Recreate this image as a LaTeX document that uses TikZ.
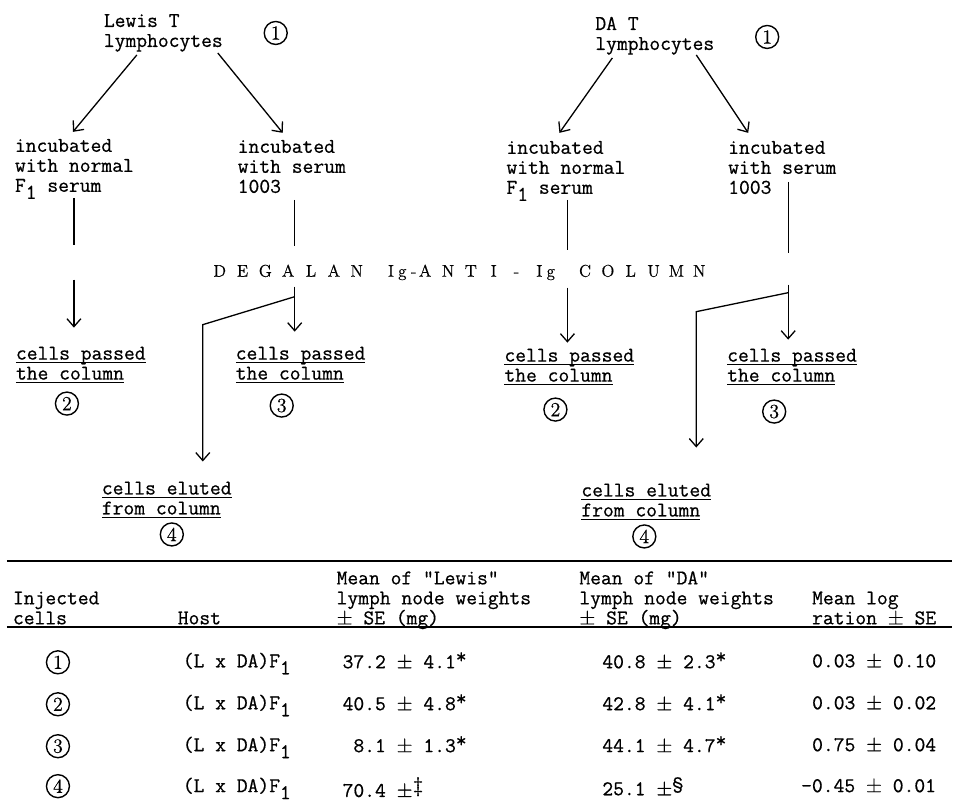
\documentclass[tikz,border=0pt]{standalone}
\usepackage{fontspec}
\usetikzlibrary{arrows.meta}
\newfontfamily\tw{lmmono12-regular.otf}[FakeBold=0.6]
\newfontfamily\twr{lmroman12-regular.otf}[FakeBold=0.5]
\newcommand\ustrut{\rule{0pt}{15pt}}
\newcommand\ul[1]{\setbox0\hbox{#1}\rlap{\rule[-3.5pt]{\wd0}{1.4pt}}\box0}
\newcommand\lowsub[1]{\raisebox{-7pt}{#1}}
\newcommand\spch[1]{\makebox[11.43pt][c]{#1}}
\newcommand\upmark[1]{\raisebox{5pt}{#1}}
\newcommand\pmx{{\twr ±}}
\begin{document}
\begin{tikzpicture}[x=1pt,y=-1pt,
  txt/.style={anchor=north west, inner sep=0pt, outer sep=0pt, align=left,
    font=\tw\fontsize{21}{20}\selectfont},
  circ/.style={circle, draw, line width=1.4pt, inner sep=0pt, minimum size=23pt,
    font=\twr\fontsize{20}{20}\selectfont},
  conn/.style={line width=1.3pt},
  arr/.style={line width=1.3pt, -{Straight Barb[length=8pt,width=14pt]}},
  rulel/.style={line width=2pt}]
\fill[white] (0,0) rectangle (953,805);

% ---------------- Lewis branch ----------------
\node[txt] (lewis) at (104,12) {\ustrut Lewis T\\lymphocytes};
\node[circ] (c1L) at (276,33) {1};
\node[txt] (incL) at (15,137) {\ustrut incubated\\with normal\\F\lowsub{1} serum};
\node[txt] (incR) at (238,138) {\ustrut incubated\\with serum\\1003};
\node[txt] (passL1) at (16,345) {\ustrut\ul{cells passed}\\\ul{the column}};
\node[circ] (c2L) at (67,404) {2};
\node[txt] (passL2) at (236,345) {\ustrut\ul{cells passed}\\\ul{the column}};
\node[circ] (c3L) at (282,406) {3};
\node[txt] (eluL) at (102,480) {\ustrut\ul{cells eluted}\\\ul{from column}};
\node[circ] (c4L) at (172,535) {4};

% ---------------- DA branch ----------------
\node[txt] (da) at (596,15) {\ustrut DA T\\lymphocytes};
\node[circ] (c1R) at (768,37) {1};
\node[txt] (incDL) at (507,139) {\ustrut incubated\\with normal\\F\lowsub{1} serum};
\node[txt] (incDR) at (729,139) {\ustrut incubated\\with serum\\1003};
\node[txt] (passR1) at (505,347) {\ustrut\ul{cells passed}\\\ul{the column}};
\node[circ] (c2R) at (556,410) {2};
\node[txt] (passR2) at (728,347) {\ustrut\ul{cells passed}\\\ul{the column}};
\node[circ] (c3R) at (775,412) {3};
\node[txt] (eluR) at (582,482) {\ustrut\ul{cells eluted}\\\ul{from column}};
\node[circ] (c4R) at (645,537) {4};

% ---------------- column label ----------------
\node[anchor=base west, inner sep=0pt, font=\twr\fontsize{17}{17}\selectfont] (col) at (214,277)
  {\spch{D}\spch{}\spch{E}\spch{}\spch{G}\spch{}\spch{A}\spch{}\spch{L}\spch{}\spch{A}\spch{}\spch{N}\spch{}\spch{}%
   \spch{I}\spch{g}\spch{-}\spch{A}\spch{}\spch{N}\spch{}\spch{T}\spch{}\spch{I}\spch{}\spch{-}\spch{}\spch{I}\spch{g}\spch{}\spch{}%
   \spch{C}\spch{}\spch{O}\spch{}\spch{L}\spch{}\spch{U}\spch{}\spch{M}\spch{}\spch{N}};

% ---------------- connector points ----------------
\coordinate (lA1) at (137,55);  \coordinate (lA1e) at (73,132);
\coordinate (lA2) at (218,53);  \coordinate (lA2e) at (283,133);
\coordinate (lC1a) at (74,198); \coordinate (lC1b) at (74,245);
\coordinate (lC1c) at (74,280); \coordinate (lC1d) at (74,328);
\coordinate (lC2a) at (295,200); \coordinate (lC2b) at (295,246);
\coordinate (lC2c) at (295,287); \coordinate (lC2d) at (295,332);
\coordinate (lBr) at (295,297); \coordinate (lBk) at (203,325); \coordinate (lBe) at (203,462);

\coordinate (rA1) at (613,58);  \coordinate (rA1e) at (560,133);
\coordinate (rA2) at (697,55);  \coordinate (rA2e) at (749,133);
\coordinate (rC1a) at (568,200); \coordinate (rC1b) at (568,250);
\coordinate (rC1c) at (568,288); \coordinate (rC1d) at (568,343);
\coordinate (rC2a) at (789,182); \coordinate (rC2b) at (789,253);
\coordinate (rC2c) at (789,285); \coordinate (rC2d) at (789,340);
\coordinate (rBr) at (789,293); \coordinate (rBk) at (697,312); \coordinate (rBe) at (697,448);

\draw[arr] (lA1) -- (lA1e);
\draw[arr] (lA2) -- (lA2e);
\draw[conn] (lC1a) -- (lC1b);
\draw[arr] (lC1c) -- (lC1d);
\draw[conn] (lC2a) -- (lC2b);
\draw[arr] (lC2c) -- (lC2d);
\draw[arr] (lBr) -- (lBk) -- (lBe);

\draw[arr] (rA1) -- (rA1e);
\draw[arr] (rA2) -- (rA2e);
\draw[conn] (rC1a) -- (rC1b);
\draw[arr] (rC1c) -- (rC1d);
\draw[conn] (rC2a) -- (rC2b);
\draw[arr] (rC2c) -- (rC2d);
\draw[arr] (rBr) -- (rBk) -- (rBe);

% ---------------- table ----------------
\coordinate (t1a) at (7,562);  \coordinate (t1b) at (953,562);
\coordinate (t2a) at (7,628);  \coordinate (t2b) at (953,628);
\draw[rulel] (t1a) -- (t1b);
\draw[rulel] (t2a) -- (t2b);

\node[txt] (hInj) at (13,590) {\ustrut Injected\\cells};
\node[txt] (hHost) at (178,610) {\ustrut Host};
\node[txt] (hLew) at (337,570) {\ustrut Mean of "Lewis"\\lymph node weights\\\pmx{} SE (mg)};
\node[txt] (hDA) at (580,570) {\ustrut Mean of "DA"\\lymph node weights\\\pmx{} SE (mg)};
\node[txt] (hLog) at (813,590) {\ustrut Mean log\\ration \pmx{} SE};

\node[circ] (r1c) at (58,663) {1};
\node[circ] (r2c) at (58,705) {2};
\node[circ] (r3c) at (58,747) {3};
\node[circ] (r4c) at (58,787) {4};

\node[txt] (r1h) at (183,653) {\ustrut (L x DA)F\lowsub{1}};
\node[txt] (r2h) at (183,695) {\ustrut (L x DA)F\lowsub{1}};
\node[txt] (r3h) at (183,737) {\ustrut (L x DA)F\lowsub{1}};
\node[txt] (r4h) at (183,778) {\ustrut (L x DA)F\lowsub{1}};

\node[txt] (r1l) at (343,653) {\ustrut 37.2 \pmx{} 4.1\upmark{*}};
\node[txt] (r2l) at (343,695) {\ustrut 40.5 \pmx{} 4.8\upmark{*}};
\node[txt] (r3l) at (343,737) {\ustrut\phantom{0}8.1 \pmx{} 1.3\upmark{*}};
\node[txt] (r4l) at (343,778) {\ustrut 70.4 \pmx\upmark{\textdaggerdbl}};

\node[txt] (r1d) at (603,653) {\ustrut 40.8 \pmx{} 2.3\upmark{*}};
\node[txt] (r2d) at (603,695) {\ustrut 42.8 \pmx{} 4.1\upmark{*}};
\node[txt] (r3d) at (603,737) {\ustrut 44.1 \pmx{} 4.7\upmark{*}};
\node[txt] (r4d) at (603,778) {\ustrut 25.1 \pmx\upmark{\S}};

\node[txt] (r1g) at (813,653) {\ustrut 0.03 \pmx{} 0.10};
\node[txt] (r2g) at (813,695) {\ustrut 0.03 \pmx{} 0.02};
\node[txt] (r3g) at (813,737) {\ustrut 0.75 \pmx{} 0.04};
\node[txt] (r4g) at (802,778) {\ustrut -0.45 \pmx{} 0.01};
\end{tikzpicture}
\end{document}
